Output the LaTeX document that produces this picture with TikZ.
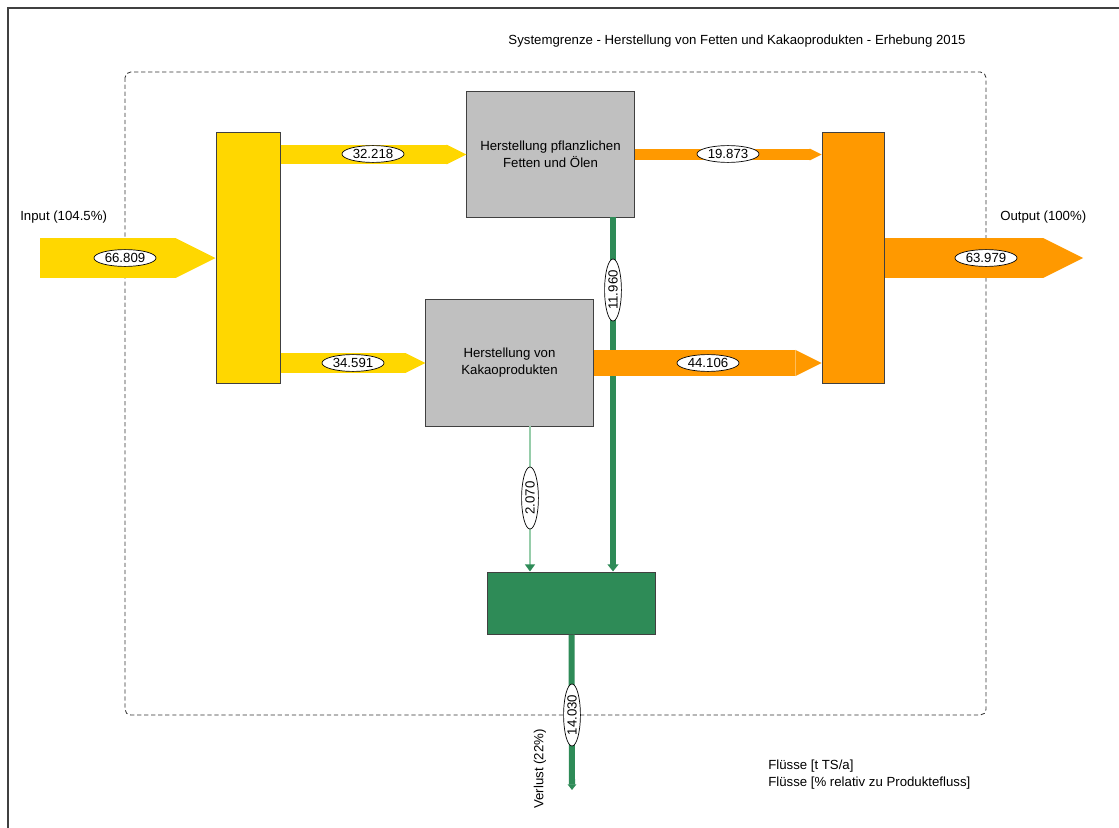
\documentclass[tikz,border=0pt]{standalone}
\usepackage{fontspec}
\setmainfont{Liberation Sans}
\usetikzlibrary{arrows.meta,shapes.geometric}

\begin{document}
\begin{tikzpicture}[x=0.025cm,y=-0.025cm,
    font=\fontsize{9.4}{12}\selectfont,
    box/.style={draw=framegray, line width=0.7pt, minimum width=4.175cm, inner sep=0pt, align=center},
    flow/.style={-{Triangle[length=0pt 1, width=0pt 1, line width=0pt]}},
    val/.style={ellipse, draw=black, line width=0.5pt, fill=white, minimum width=1.55cm, minimum height=0.42cm, inner sep=0pt}]

    % Define colors
    \definecolor{inyellow}{RGB}{255,215,0}
    \definecolor{outorange}{RGB}{255,153,0}
    \definecolor{procgray}{RGB}{192,192,192}
    \definecolor{lossgreen}{RGB}{46,139,87}
    \definecolor{lightgreen}{RGB}{150,205,170}
    \definecolor{framegray}{RGB}{64,64,64}

    % Page frame
    \useasboundingbox (0,0) rectangle (1119,828);
    \draw[framegray, line width=1.2pt] (8,828) -- (8,8) -- (1119,8);

    % System boundary
    \draw[black!80, line width=0.6pt, dash pattern=on 3pt off 2pt, rounded corners=4pt] (125,72) rectangle (986,715);
    \node (title) at (737,41) {Systemgrenze - Herstellung von Fetten und Kakaoprodukten - Erhebung 2015};

    % Boxes
    \node[box, fill=inyellow, minimum width=1.6cm, minimum height=6.25cm] (split) at (248,258) {};
    \node[box, fill=procgray, minimum height=3.125cm] (fats) at (550.5,154.5) {Herstellung pflanzlichen\\Fetten und Ölen};
    \node[box, fill=procgray, minimum height=3.15cm] (cocoa) at (509.5,363) {Herstellung von\\Kakaoprodukten};
    \node[box, fill=outorange, minimum width=1.55cm, minimum height=6.25cm] (merge) at (853,258) {};
    \node[box, fill=lossgreen, minimum height=1.55cm] (loss) at (571.5,603) {};

    % Free ends
    \coordinate (in) at (40,258);
    \coordinate (out) at (1083,258);
    \coordinate (fatsout) at (613,217);
    \coordinate (cocoaout) at (530,426);
    \coordinate (lossend) at (572,790);

    % Losses
    \draw[lossgreen, line width=4.3pt, -{Triangle[length=5pt, width=7.5pt]}] (fatsout) -- (fatsout |- loss.north);
    \draw[lightgreen, line width=1pt, -{Triangle[length=5pt, width=7pt, color=lossgreen]}] (cocoaout) -- (cocoaout |- loss.north);
    \draw[lossgreen, line width=4.3pt, -{Triangle[length=4pt, width=6pt]}] (loss) -- (lossend);

    % Flows
    \draw[flow, inyellow, line width=28.4pt] (in) -- (split);
    \draw[flow, inyellow, line width=14.2pt] (split.east |- fats) -- (fats);
    \draw[flow, inyellow, line width=14.2pt] (split.east |- cocoa) -- (cocoa);
    \draw[flow, outorange, line width=8.5pt] (fats) -- (merge.west |- fats);
    \draw[flow, outorange, line width=18.5pt] (cocoa) -- (merge.west |- cocoa);
    \draw[flow, outorange, line width=28.4pt] (merge) -- (out);

    % Values
    \node[val] (v1) at (125,258) {66.809};
    \node[val] (v2) at (373,154) {32.218};
    \node[val] (v3) at (353,363) {34.591};
    \node[val] (v4) at (728,154) {19.873};
    \node[val] (v5) at (708,363) {44.106};
    \node[val] (v6) at (986,258) {63.979};
    \node[val, rotate=90] (v7) at (613,290) {11.960};
    \node[val, rotate=90] (v8) at (530,498) {2.070};
    \node[val, rotate=90] (v9) at (572,715) {14.030};

    % Labels
    \node[anchor=west, inner sep=0pt] (inlbl) at (20,217) {Input (104.5\%)};
    \node[anchor=west, inner sep=0pt] (outlbl) at (1000,217) {Output (100\%)};
    \node[rotate=90] (losslbl) at (540,769) {Verlust (22\%)};
    \node[anchor=west, align=left, inner sep=0pt] (unit) at (768,775) {Flüsse [t TS/a]\\Flüsse [\% relativ zu Produktefluss]};
\end{tikzpicture}
\end{document}
